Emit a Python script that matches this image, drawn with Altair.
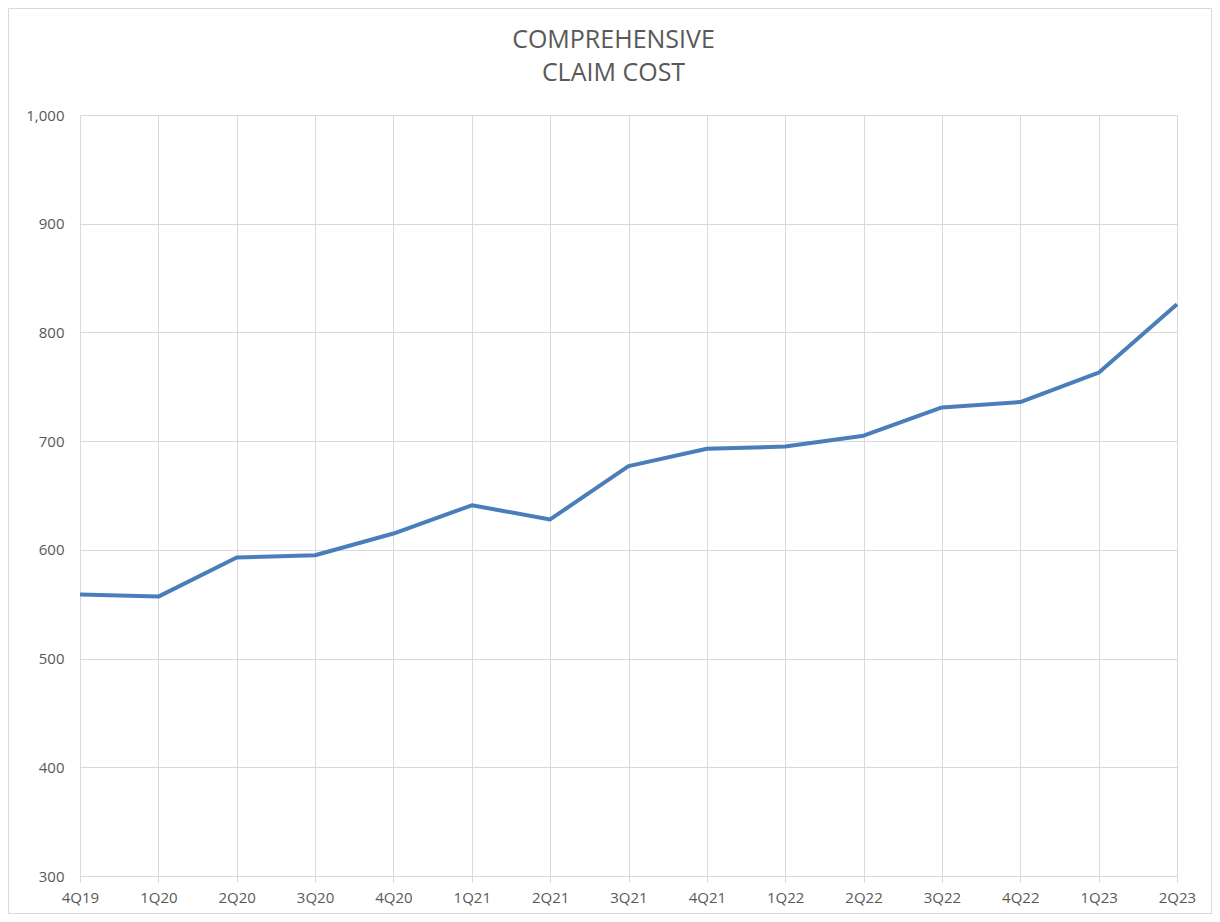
import altair as alt
import pandas as pd

quarters = ["4Q19", "1Q20", "2Q20", "3Q20", "4Q20", "1Q21", "2Q21", "3Q21",
            "4Q21", "1Q22", "2Q22", "3Q22", "4Q22", "1Q23", "2Q23"]
claim_cost = [559, 557, 593, 595, 615, 641, 628, 677,
              693, 695, 705, 731, 736, 763, 826]
y_ticks = [300, 400, 500, 600, 700, 800, 900, 1000]
title_lines = ["COMPREHENSIVE", "CLAIM COST"]

df = pd.DataFrame({"quarter": quarters, "cost": claim_cost})

W, H = 1097, 761
PL, PT, PR, PB = 72, 107, 35, 38
GRID = "#D9D9D9"
TXT = "#595959"
FONT = "Open Sans"

border = alt.Chart(pd.DataFrame({"a": [0]})).mark_rect(
    fill=None, stroke=GRID, strokeWidth=1, clip=False
).encode(
    x=alt.value(-PL + 0.5), x2=alt.value(W + PR - 0.5),
    y=alt.value(-PT + 0.5), y2=alt.value(H + PB - 0.5)
)

title1 = alt.Chart(pd.DataFrame({"t": [title_lines[0]]})).mark_text(
    fontSize=25, font=FONT, color=TXT, align="center", baseline="middle"
).encode(text="t:N", x=alt.value(W / 2 - 15), y=alt.value(-75))

title2 = alt.Chart(pd.DataFrame({"t": [title_lines[1]]})).mark_text(
    fontSize=25, font=FONT, color=TXT, align="center", baseline="middle"
).encode(text="t:N", x=alt.value(W / 2 - 15), y=alt.value(-42))

line = alt.Chart(df).mark_line(color="#4A7EBB", strokeWidth=4, strokeJoin="round").encode(
    x=alt.X("quarter:O", sort=quarters, scale=alt.Scale(padding=0),
            axis=alt.Axis(title=None, labelAngle=0, grid=True, gridColor=GRID,
                          domainColor=GRID, tickColor=GRID, tickSize=6,
                          labelPadding=8, labelFontSize=15, labelColor=TXT,
                          labelFont=FONT)),
    y=alt.Y("cost:Q", scale=alt.Scale(domain=[300, 1000], nice=False, zero=False),
            axis=alt.Axis(title=None, values=y_ticks, format=",.0f", grid=True,
                          gridColor=GRID, domain=False, ticks=False, tickSize=0,
                          labelPadding=16, labelFontSize=15, labelColor=TXT,
                          labelFont=FONT)),
)

chart = alt.layer(border, line, title1, title2).properties(
    width=W, height=H,
    autosize=alt.AutoSizeParams(type="none"),
    padding={"left": PL, "top": PT, "right": PR, "bottom": PB},
).configure_view(stroke=None)

chart.save("out.html", embed_options={"renderer": "svg", "actions": False})
